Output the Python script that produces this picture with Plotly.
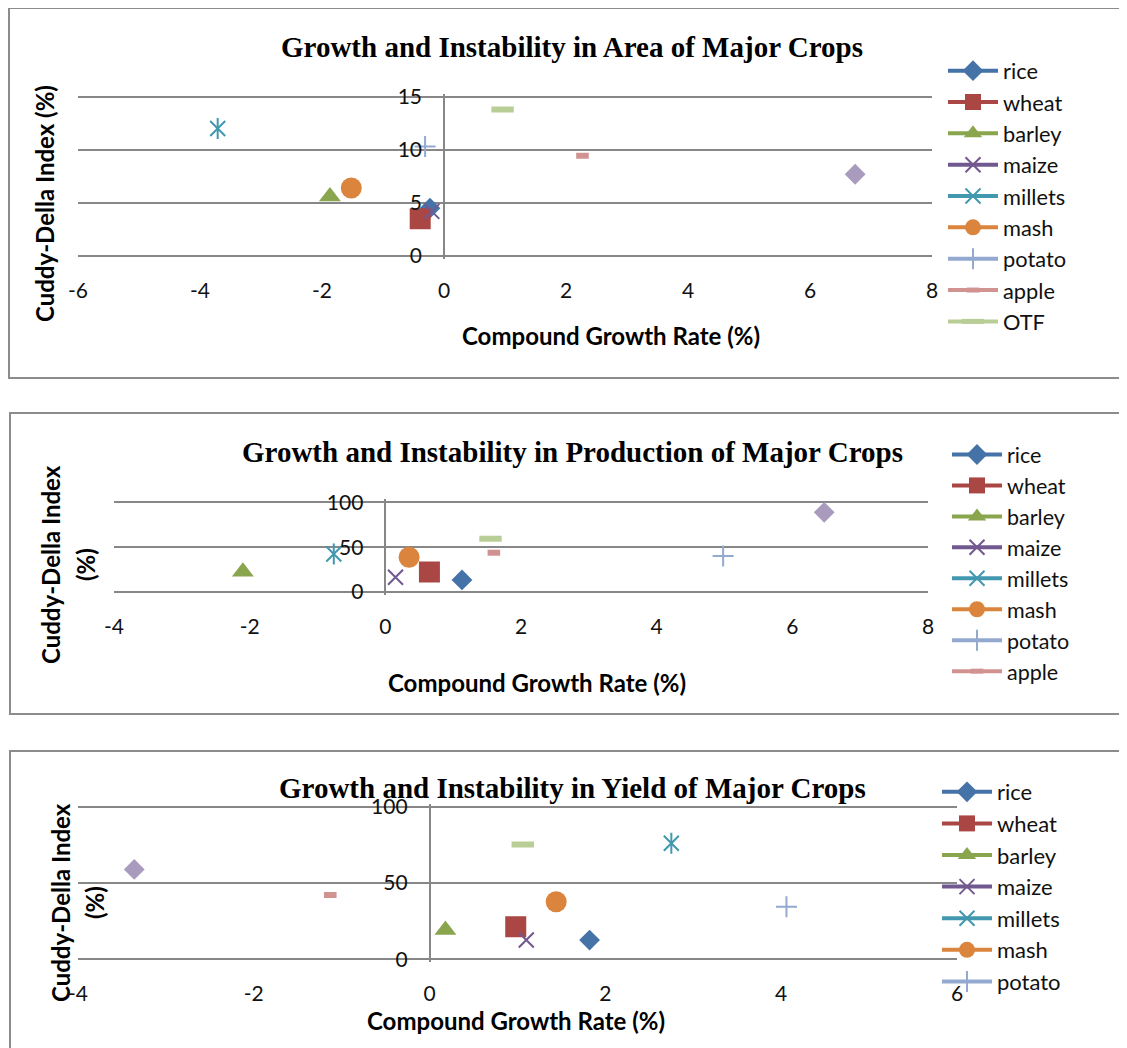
import plotly.graph_objects as go

# ---------------- data ----------------
crops = ["rice", "wheat", "barley", "maize", "millets", "mash", "potato", "apple", "OTF", "others"]

area_cgr = [-0.23, -0.39, -1.87, -0.20, -3.71, -1.52, -0.31, 2.27, 0.96, 6.74]
area_cdi = [4.5, 3.5, 5.6, 4.2, 12.0, 6.4, 10.3, 9.45, 13.8, 7.7]

prod_cgr = [1.13, 0.65, -2.10, 0.15, -0.76, 0.35, 4.98, 1.60, 1.55, 6.47]
prod_cdi = [13.5, 22.3, 22.6, 16.4, 42.4, 38.7, 40.1, 43.8, 59.4, 88.8]

yield_cgr = [1.82, 0.98, 0.18, 1.10, 2.75, 1.44, 4.06, -1.13, 1.06, -3.36]
yield_cdi = [12.6, 21.3, 19.2, 12.6, 76.0, 37.7, 34.5, 42.1, 75.3, 58.9]

area_xticks = [-6, -4, -2, 0, 2, 4, 6, 8]
area_yticks = [0, 5, 10, 15]
prod_xticks = [-4, -2, 0, 2, 4, 6, 8]
prod_yticks = [0, 50, 100]
yield_xticks = [-4, -2, 0, 2, 4, 6]
yield_yticks = [0, 50, 100]

titles = ["Growth and Instability in Area of Major Crops",
          "Growth and Instability in Production of Major Crops",
          "Growth and Instability in Yield of Major Crops"]
x_title = "Compound Growth Rate (%)"
y_title_1 = "Cuddy-Della Index (%)"
y_title_2a = "Cuddy-Della Index"
y_title_2b = "(%)"

# ---------------- styles ----------------
colors = ["#4572A7", "#AA4643", "#89A54E", "#71588F", "#4198AF",
          "#DB843D", "#93A9CF", "#D19392", "#B9CD96", "#A99BBD"]
symbols = ["diamond", "square", "triangle-up", "x-thin-open", "x-thin-open",
           "circle", "cross-thin-open", "line-ew-open", "line-ew-open", "diamond"]
sizes = [16, 21, 19, 15, 15, 21, 15, 9, 16, 16]
open_lw = {3: 2, 4: 2, 6: 2, 7: 6, 8: 6}

W, H = 1127, 1048
OFF = 8  # page body margin offset


def fx(p):
    return (p - OFF) / W


def fy(p):
    return 1 - (p - OFF) / H


GRID = "#878787"
SANS = "Lato"
SERIF = "Liberation Serif"
PADPX = 3

panels = [
    dict(x=area_cgr, y=area_cdi, xt=area_xticks, yt=area_yticks, nleg=9,
         dom_x=(78, 932), dom_y=(256, 96.7),
         title_y=47, xt_pos=(611, 335), yt_pos=[(44, 204)], ytitles=[y_title_1],
         leg=(943, 50), legfont=21.8),
    dict(x=prod_cgr, y=prod_cdi, xt=prod_xticks, yt=prod_yticks, nleg=8,
         dom_x=(114, 928), dom_y=(592, 502.3),
         title_y=452, xt_pos=(537, 682), yt_pos=[(50, 565), (85, 565)],
         ytitles=[y_title_2a, y_title_2b], leg=(947, 434), legfont=21.5),
    dict(x=yield_cgr, y=yield_cdi, xt=yield_xticks, yt=yield_yticks, nleg=7,
         dom_x=(78, 957), dom_y=(959.3, 806.7),
         title_y=788, xt_pos=(516, 1020), yt_pos=[(60, 903), (94, 903)],
         ytitles=[y_title_2a, y_title_2b], leg=(937, 771), legfont=22),
]

boxes = [(9, 8, 1150, 378), (10, 413, 1150, 714), (10, 751, 1150, 1070)]

fig = go.Figure()
layout = dict(width=W, height=H,
              margin=dict(l=0, r=0, t=0, b=0, pad=0, autoexpand=False),
              paper_bgcolor="white", plot_bgcolor="white",
              font=dict(family=SANS, size=20, color="#111"),
              showlegend=True, annotations=[], shapes=[])

for k, pnl in enumerate(panels):
    sfx = "" if k == 0 else str(k + 1)
    xa, ya = "x" + sfx, "y" + sfx
    legname = "legend" + sfx
    for i, name in enumerate(crops):
        mk = dict(symbol=symbols[i], size=sizes[i], color=colors[i],
                  line=dict(width=open_lw.get(i, 0), color=colors[i]))
        fig.add_trace(go.Scatter(
            x=[pnl["x"][i]], y=[pnl["y"][i]], name=name,
            mode="lines+markers", marker=mk,
            line=dict(color=colors[i], width=4),
            xaxis=xa, yaxis=ya, legend=legname,
            showlegend=i < pnl["nleg"], legendgroup=name + sfx))
        if name == "millets":
            fig.add_trace(go.Scatter(
                x=[pnl["x"][i]], y=[pnl["y"][i]], mode="markers",
                marker=dict(symbol="line-ns-open", size=15, color=colors[i],
                            line=dict(width=2, color=colors[i])),
                xaxis=xa, yaxis=ya, showlegend=False, legendgroup=name + sfx,
                hoverinfo="skip"))

    xr = [pnl["xt"][0], pnl["xt"][-1]]
    # small padding (in px) so that the first/last gridlines are drawn
    y_bot, y_top = pnl["dom_y"]
    ymin, ymax = pnl["yt"][0], pnl["yt"][-1]
    upp = (ymax - ymin) / (y_bot - y_top)
    yr = [ymin - PADPX * upp, ymax + PADPX * upp]
    ydom = [fy(y_bot + PADPX), fy(y_top - PADPX)]
    dx0, dx1 = fx(pnl["dom_x"][0]), fx(pnl["dom_x"][1])
    ypos = dx0 + (0 - xr[0]) / (xr[1] - xr[0]) * (dx1 - dx0)
    layout["xaxis" + sfx] = dict(
        domain=[dx0, dx1], range=xr, anchor=ya,
        tickvals=pnl["xt"], ticktext=[str(v) for v in pnl["xt"]],
        showgrid=False, zeroline=True, zerolinecolor=GRID, zerolinewidth=1.5,
        showline=False, ticks="", ticklabelstandoff=17,
        tickfont=dict(family=SANS, size=21, color="#111"), fixedrange=True)
    layout["yaxis" + sfx] = dict(
        domain=ydom, range=yr,
        anchor="free", position=ypos,
        tickvals=pnl["yt"], ticktext=[str(v) for v in pnl["yt"]],
        showgrid=True, gridcolor=GRID, gridwidth=1.5, zeroline=False,
        showline=False, ticks="", ticklabelstandoff=22,
        tickfont=dict(family=SANS, size=21, color="#111"), fixedrange=True)
    layout[legname] = dict(
        x=fx(pnl["leg"][0]), y=fy(pnl["leg"][1]), xanchor="left", yanchor="top",
        bgcolor="rgba(0,0,0,0)",
        font=dict(family=SANS, size=pnl["legfont"], color="#111"),
        itemwidth=50, tracegroupgap=0, traceorder="normal")

    layout["annotations"].append(dict(
        text="<b>" + titles[k] + "</b>", x=fx(572), y=fy(pnl["title_y"]),
        xref="paper", yref="paper", xanchor="center", yanchor="middle",
        showarrow=False, font=dict(family=SERIF, size=29, color="#000")))
    layout["annotations"].append(dict(
        text="<b>" + x_title + "</b>", x=fx(pnl["xt_pos"][0]), y=fy(pnl["xt_pos"][1]),
        xref="paper", yref="paper", xanchor="center", yanchor="middle",
        showarrow=False, font=dict(family=SANS, size=24, color="#000")))
    for (tx, ty), t in zip(pnl["yt_pos"], pnl["ytitles"]):
        layout["annotations"].append(dict(
            text="<b>" + t + "</b>", x=fx(tx), y=fy(ty), textangle=-90,
            xref="paper", yref="paper", xanchor="center", yanchor="middle",
            showarrow=False, font=dict(family=SANS, size=24, color="#000")))

for (x0, y0, x1, y1) in boxes:
    layout["shapes"].append(dict(type="rect", xref="paper", yref="paper",
                                 x0=fx(x0), x1=fx(x1), y0=fy(y0), y1=fy(y1),
                                 line=dict(color="#8C8C8C", width=2),
                                 fillcolor="rgba(0,0,0,0)", layer="below"))

fig.update_layout(**layout)
fig.write_html("out.html")
